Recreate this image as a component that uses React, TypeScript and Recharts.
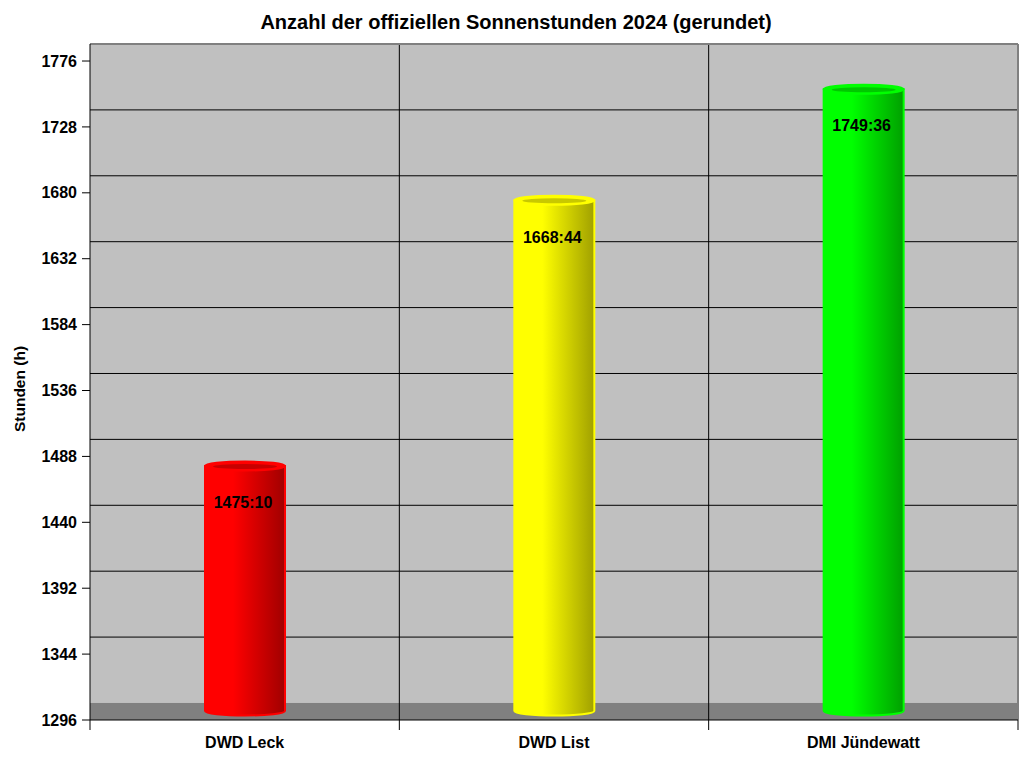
import { BarChart, Bar, XAxis, YAxis, CartesianGrid, ReferenceArea, LabelList } from 'recharts'

const kategorien = ['DWD Leck', 'DWD List', 'DMI Jündewatt']
const zeiten = ['1475:10', '1668:44', '1749:36']
const farbenHell = ['#FF0000', '#FFFF00', '#00FF00']
const farbenMitte = ['#C80000', '#C8C800', '#00C800']
const farbenDunkel = ['#A00000', '#A0A000', '#00A000']
const yTicks = [1296, 1344, 1392, 1440, 1488, 1536, 1584, 1632, 1680, 1728, 1776]

const FONT = "'Liberation Sans', Arial, sans-serif"
const BREITE = 1024
const HOEHE = 768
const rand = { top: 44, right: 6, left: 12, bottom: 8 }
const yAchsenBreite = 78
const xAchsenHoehe = 40
const plotBreite = BREITE - rand.left - rand.right - yAchsenBreite
const band = plotBreite / kategorien.length
// 3D-Tiefe der Rückwand in Achseneinheiten
const tiefe = 12.4
const yMin = yTicks[0]
const yMax = yTicks[yTicks.length - 1] + tiefe

const zuStunden = (s: string) => {
  const [h, m] = s.split(':').map(Number)
  return h + m / 60
}

const daten = kategorien.map((name, i) => ({
  name,
  stunden: zuStunden(zeiten[i]),
  zeit: zeiten[i],
  idx: i,
}))

function Zylinder(props: any) {
  const { x, y, width, height, payload } = props
  const i = payload.idx
  const rx = width / 2
  const ry = 4.5
  const cx = x + rx
  const oben = y - 8
  const unten = y + height - 9
  const body = `M ${x} ${oben} L ${x} ${unten} A ${rx} ${ry} 0 0 0 ${x + width} ${unten} L ${x + width} ${oben} Z`
  return (
    <g>
      <defs>
        <linearGradient id={`zyl${i}`} x1="0" y1="0" x2="1" y2="0">
          <stop offset="0%" stopColor={farbenHell[i]} />
          <stop offset="35%" stopColor={farbenHell[i]} />
          <stop offset="100%" stopColor={farbenDunkel[i]} />
        </linearGradient>
      </defs>
      <path d={body} fill={`url(#zyl${i})`} stroke={farbenHell[i]} strokeWidth={2} />
      <ellipse cx={cx} cy={oben} rx={rx} ry={ry} fill={farbenHell[i]} stroke={farbenHell[i]} strokeWidth={2} />
      <ellipse cx={cx} cy={oben + 0.5} rx={rx - 8} ry={ry - 2} fill={farbenMitte[i]} />
    </g>
  )
}

function Boden(props: any) {
  const { x, y, width, height } = props
  return (
    <g>
      <rect x={x} y={y} width={width} height={height} fill="#808080" />
      {kategorien.slice(1).map((_, i) => (
        <line key={i} x1={x + band * (i + 1)} x2={x + band * (i + 1)} y1={y} y2={y + height} stroke="#000" />
      ))}
    </g>
  )
}

function Rahmen(props: any) {
  const { x, y, width, height } = props
  return (
    <g>
      <line x1={x} x2={x + width} y1={y} y2={y} stroke="#808080" strokeWidth={2} />
      <line x1={x + width} x2={x + width} y1={y} y2={y + height} stroke="#808080" strokeWidth={2} />
    </g>
  )
}

function XTick(props: any) {
  const { x, y, payload, index } = props
  const achseY = y - 10
  return (
    <g>
      <line x1={x - band / 2} x2={x - band / 2} y1={achseY} y2={achseY + 10} stroke="#000" />
      {index === kategorien.length - 1 && (
        <line x1={x + band / 2} x2={x + band / 2} y1={achseY} y2={achseY + 10} stroke="#000" />
      )}
      <text x={x} y={y + 14} textAnchor="middle" dominantBaseline="middle" fontFamily={FONT} fontWeight="bold" fontSize={16} fill="#000">
        {payload.value}
      </text>
    </g>
  )
}

function ZeitLabel(props: any) {
  const { x, y, width, value } = props
  return (
    <text x={x + width / 2 - 2} y={y + 30} textAnchor="middle" dominantBaseline="middle" fontFamily={FONT} fontWeight="bold" fontSize={16} fill="#000">
      {value}
    </text>
  )
}

export default function App() {
  const hLinien = ({ offset }: any) =>
    yTicks.slice(1, -1).map((t) => offset.top + (offset.height * (yMax - (t + tiefe))) / (yMax - yMin))
  const vLinien = ({ offset }: any) => kategorien.slice(1).map((_, i) => offset.left + band * (i + 1))

  return (
    <div style={{ position: 'absolute', left: 0, top: 0, width: BREITE, height: HOEHE, background: '#fff' }}>
      <div
        style={{
          position: 'absolute',
          top: 10,
          left: 0,
          width: BREITE,
          textAlign: 'center',
          fontFamily: FONT,
          fontWeight: 'bold',
          fontSize: 20,
          lineHeight: '24px',
          paddingLeft: 4,
        }}
      >
        Anzahl der offiziellen Sonnenstunden 2024 (gerundet)
      </div>
      <BarChart width={BREITE} height={HOEHE} data={daten} margin={rand} barSize={80}>
        <CartesianGrid
          fill="#C0C0C0"
          fillOpacity={1}
          stroke="#000"
          horizontalCoordinatesGenerator={hLinien}
          verticalCoordinatesGenerator={vLinien}
        />
        <ReferenceArea y1={yMin} y2={yMin + tiefe} shape={Boden} ifOverflow="visible" />
        <XAxis
          dataKey="name"
          height={xAchsenHoehe}
          tickLine={false}
          tickSize={10}
          tickMargin={0}
          axisLine={{ stroke: '#000' }}
          tick={XTick}
          interval={0}
        />
        <YAxis
          width={yAchsenBreite}
          domain={[yMin, yMax]}
          ticks={yTicks}
          interval={0}
          allowDataOverflow
          tickSize={8}
          tickMargin={5}
          axisLine={{ stroke: '#000' }}
          tickLine={{ stroke: '#000' }}
          tick={{ fill: '#000', fontFamily: FONT, fontWeight: 'bold', fontSize: 16 }}
          label={{
            content: ({ viewBox }: any) => (
              <text
                x={0}
                y={0}
                transform={`translate(${viewBox.x + 9}, ${viewBox.y + viewBox.height / 2 + 7}) rotate(-90)`}
                textAnchor="middle"
                dominantBaseline="middle"
                fontFamily={FONT}
                fontWeight="bold"
                fontSize={15.5}
                fill="#000"
              >
                Stunden (h)
              </text>
            ),
          }}
        />
        <Bar dataKey="stunden" shape={Zylinder} isAnimationActive={false}>
          <LabelList dataKey="zeit" content={ZeitLabel} />
        </Bar>
        <ReferenceArea y1={yMin} y2={yMax} shape={Rahmen} ifOverflow="visible" />
      </BarChart>
    </div>
  )
}
